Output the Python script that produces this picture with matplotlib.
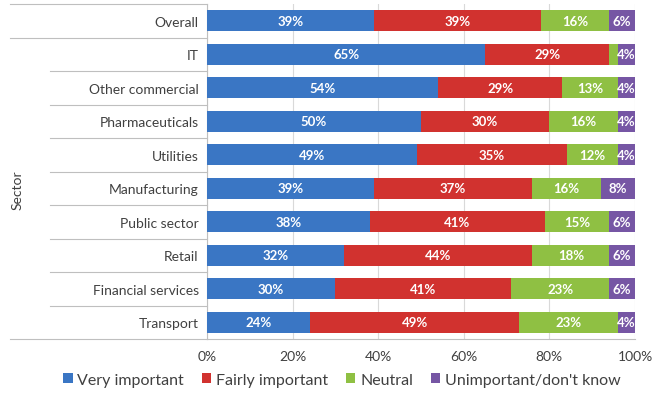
import matplotlib
matplotlib.use("Agg")
import matplotlib.pyplot as plt
import matplotlib.transforms as mtransforms
import numpy as np

# survey shares per sector, in percent
sectors = ["Overall", "IT", "Other commercial", "Pharmaceuticals", "Utilities",
           "Manufacturing", "Public sector", "Retail", "Financial services", "Transport"]
very_important = [39, 65, 54, 50, 49, 39, 38, 32, 30, 24]
fairly_important = [39, 29, 29, 30, 35, 37, 41, 44, 41, 49]
neutral = [16, 2, 13, 16, 12, 16, 15, 18, 23, 23]
unimportant = [6, 4, 4, 4, 4, 8, 6, 6, 6, 4]

series_names = ["Very important", "Fairly important", "Neutral", "Unimportant/don't know"]
series_vals = [very_important, fairly_important, neutral, unimportant]
colors = ["#3a76c4", "#d1322f", "#8fc043", "#7656a4"]
x_ticks = [0, 20, 40, 60, 80, 100]

plt.rcParams["font.family"] = ["Lato", "DejaVu Sans"]

fig = plt.figure(figsize=(6.64, 4.06), dpi=100)
ax = fig.add_axes([207 / 664, 1 - 340 / 406, 428 / 664, 335 / 406])

n = len(sectors)
y = np.arange(n)
left = np.zeros(n)
for name, vals, col in zip(series_names, series_vals, colors):
    vals = np.array(vals, dtype=float)
    ax.barh(y, vals / 100, left=left / 100, height=0.63, color=col,
            edgecolor="none", label=name, zorder=3)
    for yi, (l, v) in enumerate(zip(left, vals)):
        if v >= 3:
            ax.text((l + v / 2) / 100, yi, f"{int(v)}%", ha="center", va="center",
                    color="white", fontsize=9.5, fontweight="bold", zorder=4)
    left += vals

ax.set_ylim(n - 0.5, -0.5)
ax.set_xlim(0, 1)
ax.set_yticks(y)
ax.set_yticklabels(sectors, fontsize=10, color="#404040")
ax.set_xticks([t / 100 for t in x_ticks])
ax.set_xticklabels([f"{t}%" for t in x_ticks], fontsize=10, color="#404040")
ax.tick_params(axis="both", length=0, pad=6)
ax.tick_params(axis="x", pad=8)
ax.grid(axis="x", color="#d9d9d9", lw=0.8, zorder=0)
for side in ("top", "right"):
    ax.spines[side].set_visible(False)
for side in ("left", "bottom"):
    ax.spines[side].set_color("#bfbfbf")
    ax.spines[side].set_linewidth(0.8)

# multi-level category axis: separators between labels, "Sector" group label
trans = mtransforms.blended_transform_factory(ax.transAxes, ax.transData)
outer = (10 - 207) / 428
inner = (50 - 207) / 428
for b in np.arange(-0.5, n, 1.0):
    x0 = outer if b in (-0.5, 0.5, n - 0.5) else inner
    ax.plot([x0, 0], [b, b], transform=trans, color="#bfbfbf", lw=0.8,
            clip_on=False, zorder=1)
ax.text(18 / 664, 1 - 190 / 406, "Sector", transform=fig.transFigure, rotation=90,
        ha="center", va="center", fontsize=10, color="#404040")

fig.legend(loc="center", bbox_to_anchor=(0.515, 1 - 381 / 406), ncol=4, frameon=False,
           fontsize=11.5, handlelength=0.6, handleheight=0.6, handletextpad=0.3,
           columnspacing=1.1, labelcolor="#404040")

fig.savefig("out.png", dpi=100)
